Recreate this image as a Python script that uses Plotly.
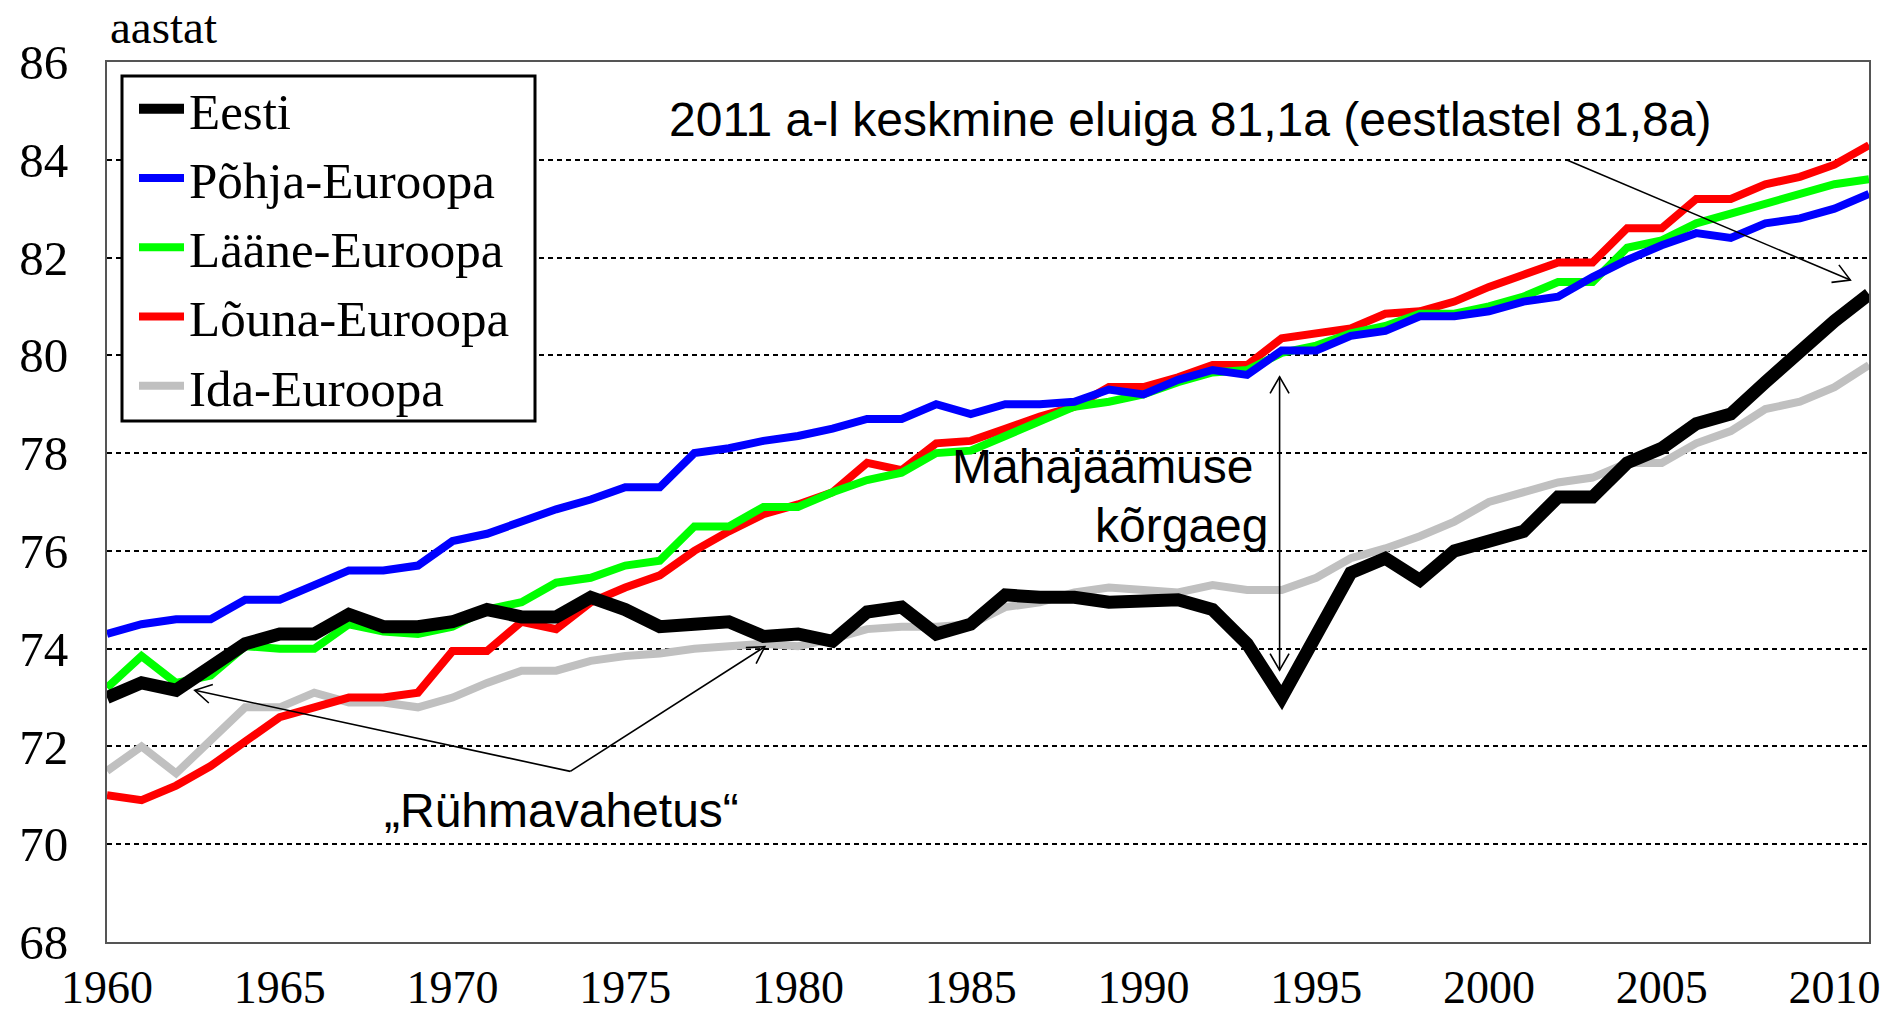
import math
import plotly.graph_objects as go

years = list(range(1960, 2012))

eesti = [73.0, 73.3, 73.15, 73.6, 74.1, 74.3, 74.3, 74.7, 74.45, 74.45,
         74.55, 74.8, 74.65, 74.65, 75.05, 74.8, 74.45, 74.5, 74.55, 74.25,
         74.3, 74.15, 74.75, 74.85, 74.3, 74.5, 75.1, 75.05, 75.05, 74.95,
         74.95, 75.0, 74.8, 74.1, 73.0, 74.3, 75.55, 75.85, 75.4, 76.0,
         76.2, 76.4, 77.1, 77.1, 77.8, 78.1, 78.6, 78.8, 79.45, 80.1,
         80.7, 81.25]
pohja = [74.3, 74.5, 74.6, 74.6, 75.0, 75.0, 75.3, 75.6, 75.6, 75.7,
         76.2, 76.35, 76.6, 76.85, 77.05, 77.3, 77.3, 78.0, 78.1, 78.25,
         78.35, 78.5, 78.7, 78.7, 79.0, 78.8, 79.0, 79.0, 79.05, 79.3,
         79.2, 79.5, 79.7, 79.6, 80.1, 80.1, 80.4, 80.5, 80.8, 80.8,
         80.9, 81.1, 81.2, 81.6, 81.95, 82.25, 82.5, 82.4, 82.7, 82.8,
         83.0, 83.3]
laane = [73.2, 73.85, 73.3, 73.45, 74.05, 74.0, 74.0, 74.5, 74.35, 74.3,
         74.45, 74.8, 74.95, 75.35, 75.45, 75.7, 75.8, 76.5, 76.5, 76.9,
         76.9, 77.2, 77.45, 77.6, 78.0, 78.05, 78.35, 78.65, 78.95, 79.05,
         79.2, 79.45, 79.65, 79.7, 80.05, 80.2, 80.45, 80.6, 80.85, 80.85,
         81.0, 81.2, 81.5, 81.5, 82.2, 82.35, 82.7, 82.9, 83.1, 83.3,
         83.5, 83.6]
louna = [71.0, 70.9, 71.2, 71.6, 72.1, 72.6, 72.8, 73.0, 73.0, 73.1,
         73.95, 73.95, 74.55, 74.4, 74.95, 75.25, 75.5, 76.0, 76.4, 76.75,
         76.95, 77.2, 77.8, 77.65, 78.2, 78.25, 78.5, 78.75, 78.95, 79.35,
         79.35, 79.55, 79.8, 79.8, 80.35, 80.45, 80.55, 80.85, 80.9, 81.1,
         81.4, 81.65, 81.9, 81.9, 82.6, 82.6, 83.2, 83.2, 83.5, 83.65,
         83.9, 84.3]
ida = [71.5, 72.0, 71.45, 72.15, 72.8, 72.8, 73.1, 72.9, 72.9, 72.8,
       73.0, 73.3, 73.55, 73.55, 73.75, 73.85, 73.9, 74.0, 74.05, 74.1,
       74.05, 74.2, 74.4, 74.45, 74.45, 74.5, 74.85, 74.95, 75.15, 75.25,
       75.2, 75.15, 75.3, 75.2, 75.2, 75.45, 75.85, 76.05, 76.3, 76.6,
       77.0, 77.2, 77.4, 77.5, 77.8, 77.8, 78.2, 78.45, 78.9, 79.05,
       79.35, 79.8]

x_ticks = list(range(1960, 2011, 5))
y_ticks = list(range(68, 87, 2))

# layout geometry
W, H = 1890, 1013
ML, MR, MT, MB = 107, 21, 62, 71
PW, PH = W - ML - MR, H - MT - MB
X0, X1 = 1960, 2011
Y0, Y1 = 68, 86
PXY = PW / (X1 - X0)
PXV = PH / (Y1 - Y0)

SERIF = "Liberation Serif"
SANS = "Liberation Sans"


def px2paper(px, py):
    return (px - ML) / PW, (H - MB - py) / PH


fig = go.Figure()
series = [
    ("Ida-Euroopa", ida, "#c0c0c0", 8, 5),
    ("Lõuna-Euroopa", louna, "#ff0000", 8, 4),
    ("Lääne-Euroopa", laane, "#00ff00", 8, 3),
    ("Põhja-Euroopa", pohja, "#0000ff", 8, 2),
    ("Eesti", eesti, "#000000", 13, 1),
]
for name, vals, col, w, rank in series:
    fig.add_trace(go.Scatter(
        x=years, y=vals, mode="lines", name=name,
        line=dict(color=col, width=w), legendrank=rank,
    ))

shapes = []
# legend frame
lx0, ly0 = px2paper(122, 76)
lx1, ly1 = px2paper(535, 421)
shapes.append(dict(type="rect", xref="paper", yref="paper", x0=lx0, y0=ly1,
                   x1=lx1, y1=ly0, line=dict(color="black", width=3),
                   fillcolor="white", layer="above"))


def head(xt, yt, xf, yf, L=19, ang=math.radians(30)):
    # open V arrowhead at (xt, yt) pointing away from (xf, yf)
    dx = (xt - xf) * PXY
    dy = (yt - yf) * PXV
    n = math.hypot(dx, dy)
    ux, uy = dx / n, dy / n
    pts = []
    for s in (1, -1):
        c, si = math.cos(s * ang), math.sin(s * ang)
        rx = ux * c - uy * si
        ry = ux * si + uy * c
        pts.append((xt - L * rx / PXY, yt - L * ry / PXV))
    return "M{},{} L{},{} L{},{}".format(pts[0][0], pts[0][1], xt, yt,
                                         pts[1][0], pts[1][1])


ALINE = dict(color="black", width=1.6)


def arrow(x0, y0, x1, y1, both=False):
    shapes.append(dict(type="line", xref="x", yref="y", x0=x0, y0=y0,
                       x1=x1, y1=y1, line=ALINE, layer="above"))
    shapes.append(dict(type="path", xref="x", yref="y",
                       path=head(x1, y1, x0, y0), line=ALINE, layer="above"))
    if both:
        shapes.append(dict(type="path", xref="x", yref="y",
                           path=head(x0, y0, x1, y1), line=ALINE,
                           layer="above"))


arrow(2002.24, 84.0, 2010.46, 81.54)
arrow(1973.41, 71.49, 1962.54, 73.15)
arrow(1973.41, 71.49, 1979.04, 74.04)
arrow(1993.94, 79.56, 1993.94, 73.56, both=True)

annotations = [
    dict(text="2011 a-l keskmine eluiga 81,1a (eestlastel 81,8a)",
         x=1976.2, y=84.82, xref="x", yref="y", xanchor="left",
         yanchor="middle", showarrow=False,
         font=dict(family=SANS, size=48, color="black")),
    dict(text="Mahajäämuse", x=1993.25, y=77.72, xref="x",
         yref="y", xanchor="right", yanchor="middle",
         showarrow=False, font=dict(family=SANS, size=48, color="black")),
    dict(text="kõrgaeg", x=1993.65, y=76.51, xref="x",
         yref="y", xanchor="right", yanchor="middle",
         showarrow=False, font=dict(family=SANS, size=48, color="black")),
    dict(text="„Rühmavahetus“", x=1967.96, y=70.7, xref="x", yref="y",
         xanchor="left", yanchor="middle", showarrow=False,
         font=dict(family=SANS, size=48, color="black")),
    dict(text="aastat", x=px2paper(108, 0)[0], y=px2paper(0, 27)[1],
         xref="paper", yref="paper", xanchor="left", yanchor="middle",
         showarrow=False, font=dict(family=SERIF, size=47, color="black")),
]

lgx, lgy = px2paper(134, 69)
fig.update_layout(
    width=W, height=H,
    margin=dict(l=ML, r=MR, t=MT, b=MB, pad=0, autoexpand=False),
    paper_bgcolor="white", plot_bgcolor="white",
    showlegend=True,
    legend=dict(x=lgx, y=lgy, xanchor="left", yanchor="top",
                bgcolor="rgba(0,0,0,0)", borderwidth=0,
                font=dict(family=SERIF, size=51, color="black"),
                tracegroupgap=0, itemwidth=45),
    shapes=shapes,
    annotations=annotations,
    xaxis=dict(range=[X0, X1], tickvals=x_ticks,
               ticktext=[str(v) for v in x_ticks], automargin=False,
               showgrid=False, zeroline=False, showline=True,
               linecolor="#555555", linewidth=2, mirror=True,
               ticks="", ticklabelstandoff=4,
               tickfont=dict(family=SERIF, size=46, color="black")),
    yaxis=dict(range=[Y0, Y1], tickvals=y_ticks,
               ticktext=[str(v) for v in y_ticks], automargin=False,
               showgrid=True, gridcolor="black", gridwidth=1.5,
               griddash="5px,4px", zeroline=False, showline=True,
               linecolor="#555555", linewidth=2, mirror=True,
               ticks="", ticklabelstandoff=27,
               tickfont=dict(family=SERIF, size=49, color="black")),
)

fig.write_html(
    "out.html",
    config={"displayModeBar": False},
    post_script="document.body.style.margin='0';"
                "document.body.style.overflow='hidden';",
)
